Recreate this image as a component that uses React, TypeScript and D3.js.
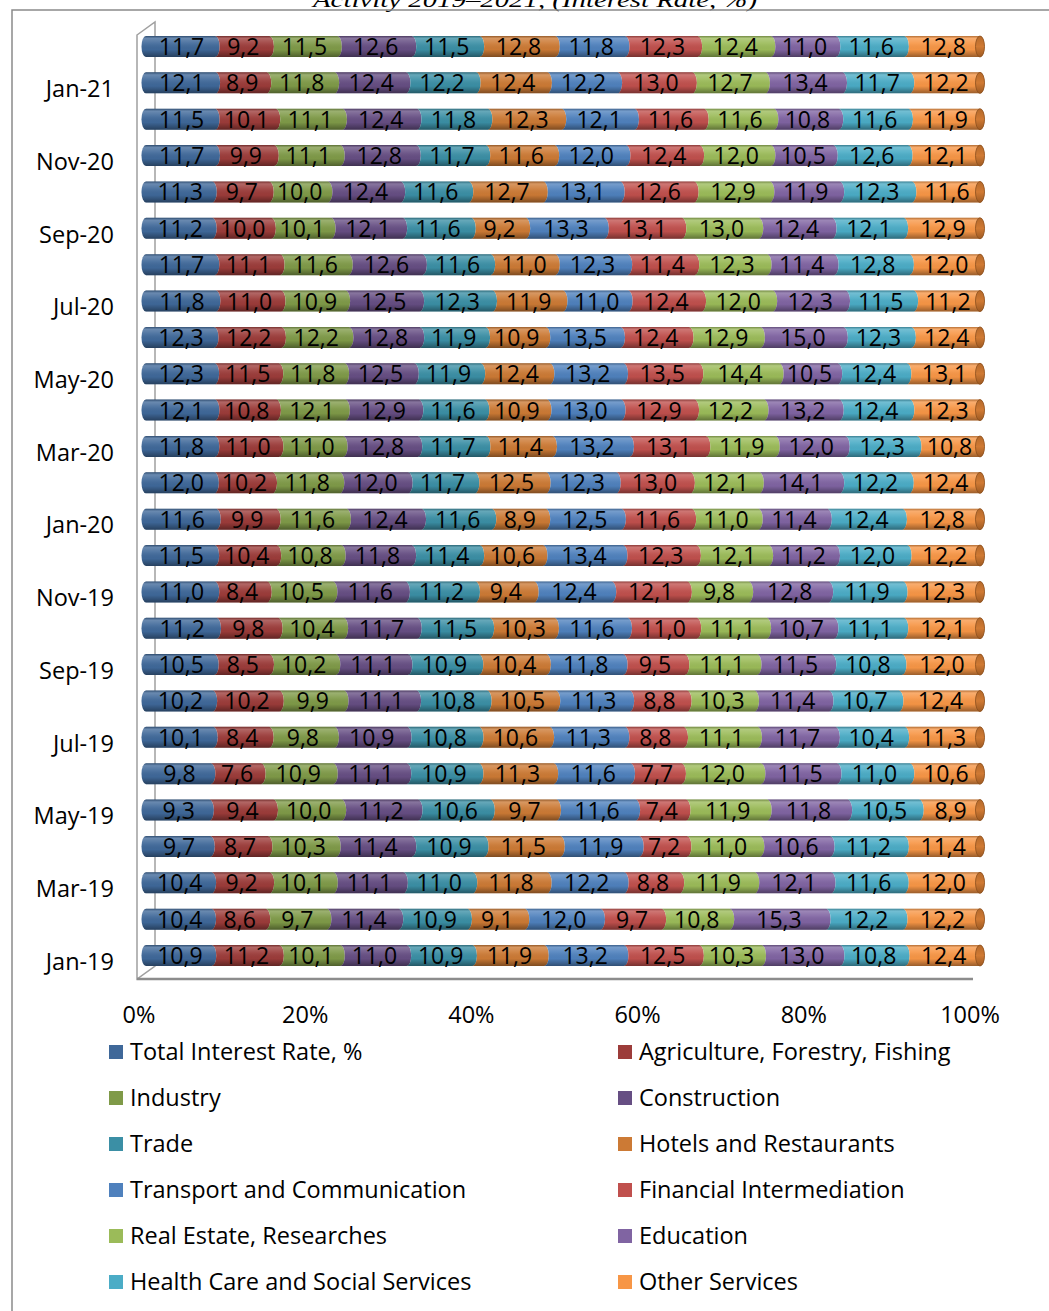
import React from "react";
import * as d3 from "d3";

const months = [
  "Jan-19", "Feb-19", "Mar-19", "Apr-19", "May-19", "Jun-19", "Jul-19", "Aug-19", "Sep-19", "Oct-19", "Nov-19", "Dec-19",
  "Jan-20", "Feb-20", "Mar-20", "Apr-20", "May-20", "Jun-20", "Jul-20", "Aug-20", "Sep-20", "Oct-20", "Nov-20", "Dec-20",
  "Jan-21", "Feb-21",
];

const seriesNames = [
  "Total Interest Rate, %",
  "Agriculture, Forestry, Fishing",
  "Industry",
  "Construction",
  "Trade",
  "Hotels and Restaurants",
  "Transport and Communication",
  "Financial Intermediation",
  "Real Estate, Researches",
  "Education",
  "Health Care and Social Services",
  "Other Services",
];

const seriesColors = [
  "#3F6899", "#9C3C3A", "#7F9A48", "#664E83", "#3B8FA5", "#CC7A35",
  "#4F81BD", "#C0504D", "#9BBB59", "#8064A2", "#4BACC6", "#F79646",
];

const totalRate = [10.9, 10.4, 10.4, 9.7, 9.3, 9.8, 10.1, 10.2, 10.5, 11.2, 11.0, 11.5, 11.6, 12.0, 11.8, 12.1, 12.3, 12.3, 11.8, 11.7, 11.2, 11.3, 11.7, 11.5, 12.1, 11.7];
const agriculture = [11.2, 8.6, 9.2, 8.7, 9.4, 7.6, 8.4, 10.2, 8.5, 9.8, 8.4, 10.4, 9.9, 10.2, 11.0, 10.8, 11.5, 12.2, 11.0, 11.1, 10.0, 9.7, 9.9, 10.1, 8.9, 9.2];
const industry = [10.1, 9.7, 10.1, 10.3, 10.0, 10.9, 9.8, 9.9, 10.2, 10.4, 10.5, 10.8, 11.6, 11.8, 11.0, 12.1, 11.8, 12.2, 10.9, 11.6, 10.1, 10.0, 11.1, 11.1, 11.8, 11.5];
const construction = [11.0, 11.4, 11.1, 11.4, 11.2, 11.1, 10.9, 11.1, 11.1, 11.7, 11.6, 11.8, 12.4, 12.0, 12.8, 12.9, 12.5, 12.8, 12.5, 12.6, 12.1, 12.4, 12.8, 12.4, 12.4, 12.6];
const trade = [10.9, 10.9, 11.0, 10.9, 10.6, 10.9, 10.8, 10.8, 10.9, 11.5, 11.2, 11.4, 11.6, 11.7, 11.7, 11.6, 11.9, 11.9, 12.3, 11.6, 11.6, 11.6, 11.7, 11.8, 12.2, 11.5];
const hotels = [11.9, 9.1, 11.8, 11.5, 9.7, 11.3, 10.6, 10.5, 10.4, 10.3, 9.4, 10.6, 8.9, 12.5, 11.4, 10.9, 12.4, 10.9, 11.9, 11.0, 9.2, 12.7, 11.6, 12.3, 12.4, 12.8];
const transport = [13.2, 12.0, 12.2, 11.9, 11.6, 11.6, 11.3, 11.3, 11.8, 11.6, 12.4, 13.4, 12.5, 12.3, 13.2, 13.0, 13.2, 13.5, 11.0, 12.3, 13.3, 13.1, 12.0, 12.1, 12.2, 11.8];
const financial = [12.5, 9.7, 8.8, 7.2, 7.4, 7.7, 8.8, 8.8, 9.5, 11.0, 12.1, 12.3, 11.6, 13.0, 13.1, 12.9, 13.5, 12.4, 12.4, 11.4, 13.1, 12.6, 12.4, 11.6, 13.0, 12.3];
const realEstate = [10.3, 10.8, 11.9, 11.0, 11.9, 12.0, 11.1, 10.3, 11.1, 11.1, 9.8, 12.1, 11.0, 12.1, 11.9, 12.2, 14.4, 12.9, 12.0, 12.3, 13.0, 12.9, 12.0, 11.6, 12.7, 12.4];
const education = [13.0, 15.3, 12.1, 10.6, 11.8, 11.5, 11.7, 11.4, 11.5, 10.7, 12.8, 11.2, 11.4, 14.1, 12.0, 13.2, 10.5, 15.0, 12.3, 11.4, 12.4, 11.9, 10.5, 10.8, 13.4, 11.0];
const health = [10.8, 12.2, 11.6, 11.2, 10.5, 11.0, 10.4, 10.7, 10.8, 11.1, 11.9, 12.0, 12.4, 12.2, 12.3, 12.4, 12.4, 12.3, 11.5, 12.8, 12.1, 12.3, 12.6, 11.6, 11.7, 11.6];
const otherServices = [12.4, 12.2, 12.0, 11.4, 8.9, 10.6, 11.3, 12.4, 12.0, 12.1, 12.3, 12.2, 12.8, 12.4, 10.8, 12.3, 13.1, 12.4, 11.2, 12.0, 12.9, 11.6, 12.1, 11.9, 12.2, 12.8];

const seriesValues = [
  totalRate, agriculture, industry, construction, trade, hotels,
  transport, financial, realEstate, education, health, otherServices,
];

const xTicks = [0, 0.2, 0.4, 0.6, 0.8, 1];

const FONT = "'Open Sans', 'Noto Sans', sans-serif";

export default function App() {
  const W = 1049;
  const H = 1311;

  // bar (back-shifted) scale and front-plane scale
  const xBar = d3.scaleLinear().domain([0, 1]).range([146, 980]);
  const xFront = d3.scaleLinear().domain([0, 1]).range([139, 970]);
  const y = d3.scalePoint<string>().domain(months).range([955.5, 46.5]);

  const barH = 21;
  const rx = 4.5;
  const ry = barH / 2;

  const table = months.map((m, i) => {
    const vals = seriesValues.map((s) => s[i]);
    const sum = d3.sum(vals);
    let acc = 0;
    const segs = vals.map((v, k) => {
      const x0 = acc / sum;
      acc += v;
      const x1 = acc / sum;
      return { k, v, x0, x1 };
    });
    return { m, i, segs };
  });

  const segPath = (x0: number, x1: number, cy: number, first: boolean) => {
    const t = cy - ry;
    const b = cy + ry;
    return `M${x0},${t} L${x1},${t} A${rx},${ry} 0 0 1 ${x1},${b} L${x0},${b} A${rx},${ry} 0 0 ${first ? 1 : 0} ${x0},${t} Z`;
  };

  const fmt = (v: number) => v.toFixed(1).replace(".", ",");

  const legendRows = [1052, 1098, 1144, 1190, 1236, 1282];

  return (
    <svg
      width={W}
      height={H}
      style={{ position: "absolute", left: 0, top: 0, background: "#fff" }}
      fontFamily={FONT}
    >
      <defs>
        <linearGradient id="cyl" x1="0" y1="0" x2="0" y2="1">
          <stop offset="0" stopColor="#000" stopOpacity="0.28" />
          <stop offset="0.12" stopColor="#fff" stopOpacity="0.22" />
          <stop offset="0.35" stopColor="#fff" stopOpacity="0.08" />
          <stop offset="0.65" stopColor="#000" stopOpacity="0.02" />
          <stop offset="1" stopColor="#000" stopOpacity="0.38" />
        </linearGradient>
        <linearGradient id="cap" x1="0" y1="0" x2="0" y2="1">
          <stop offset="0" stopColor="#B5692A" />
          <stop offset="0.5" stopColor="#D07A34" />
          <stop offset="1" stopColor="#9E5A22" />
        </linearGradient>
      </defs>

      {/* title (partly cut off) */}
      <text
        x={535}
        y={7}
        textAnchor="middle"
        fontFamily="'Liberation Serif', 'Times New Roman', serif"
        fontStyle="italic"
        fontSize={22}
        textLength={444}
        lengthAdjust="spacingAndGlyphs"
        fill="#000"
      >
        Activity 2019–2021, (Interest Rate, %)
      </text>

      {/* outer chart border */}
      <path d={`M12,${H} L12,10 L${W},10`} fill="none" stroke="#8a8a8a" strokeWidth={1.5} />

      {/* 3D frame: left wall and floor */}
      <path d="M137,35 L155,22 L155,966 L137,979 Z" fill="none" stroke="#a0a0a0" strokeWidth={1.5} />
      <line x1={137} y1={979} x2={973} y2={979} stroke="#8c8c8c" strokeWidth={2.5} />

      {/* bars */}
      {table.map((row) => {
        const cy = y(row.m) as number;
        const last = row.segs[row.segs.length - 1];
        return (
          <g key={row.m}>
            {row.segs.map((s) => (
              <path
                key={s.k}
                d={segPath(xBar(s.x0), xBar(s.x1), cy, s.k === 0)}
                fill={seriesColors[s.k]}
              />
            ))}
            <path
              d={segPath(xBar(0), xBar(1), cy, true)}
              fill="url(#cyl)"
            />
            <ellipse
              cx={xBar(last.x1)}
              cy={cy}
              rx={rx}
              ry={ry}
              fill="url(#cap)"
              stroke="#8a4f1e"
              strokeWidth={0.8}
            />
          </g>
        );
      })}

      {/* data labels */}
      {table.map((row) => {
        const cy = y(row.m) as number;
        return (
          <g key={"l" + row.m}>
            {row.segs.map((s) => (
              <text
                key={s.k}
                x={(xBar(s.x0) + xBar(s.x1)) / 2 + 1}
                y={cy + 8.5}
                textAnchor="middle"
                fontSize={23}
                fill="#000"
              >
                {fmt(s.v)}
              </text>
            ))}
          </g>
        );
      })}

      {/* category labels */}
      {months.map((m, i) =>
        i % 2 === 0 ? (
          <text
            key={m}
            x={114}
            y={(y(m) as number) + 6}
            dy="0.35em"
            textAnchor="end"
            fontSize={23.5}
            fill="#000"
          >
            {m}
          </text>
        ) : null
      )}

      {/* x axis tick labels */}
      {xTicks.map((t) => (
        <text
          key={t}
          x={xFront(t)}
          y={1015}
          dy="0.35em"
          textAnchor="middle"
          fontSize={23.5}
          fill="#000"
        >
          {d3.format(".0%")(t)}
        </text>
      ))}

      {/* legend */}
      {seriesNames.map((name, k) => {
        const col = k % 2;
        const row = Math.floor(k / 2);
        const sx = col === 0 ? 109 : 618;
        const cy = legendRows[row];
        return (
          <g key={name}>
            <rect x={sx} y={cy - 7} width={14} height={14} fill={seriesColors[k]} />
            <text x={sx + 21} y={cy} dy="0.35em" fontSize={23.5} fill="#000">
              {name}
            </text>
          </g>
        );
      })}
    </svg>
  );
}
